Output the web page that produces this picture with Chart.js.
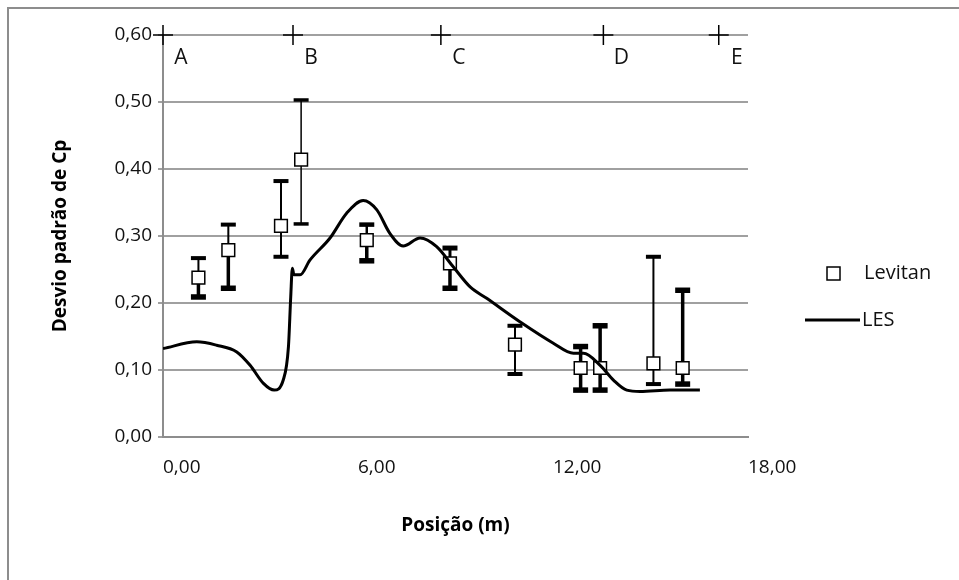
<!DOCTYPE html>
<html>
<head>
<meta charset="utf-8">
<title>Desvio padrão de Cp</title>
<script src="https://cdn.jsdelivr.net/npm/chart.js"></script>
<style>
    html, body { margin: 0; padding: 0; background: #fff; overflow: hidden; }
    #wrap { position: relative; width: 959px; height: 580px; }
    #frame { position: absolute; left: 7px; top: 7px; width: 1000px; height: 1000px;
             border: 2px solid #8d8d8d; pointer-events: none; }
</style>
</head>
<body>
<div id="wrap">
    <canvas id="chart" width="959" height="580"></canvas>
    <div id="frame"></div>
</div>
<script>
    // Levitan: position, mean value and the two ends of its error bar
    var levX    = [1.09, 2.01, 3.63, 4.25, 6.27, 8.83, 10.83, 12.85, 13.45, 15.09, 15.99];
    var levY    = [0.238, 0.279, 0.315, 0.414, 0.294, 0.259, 0.138, 0.103, 0.103, 0.110, 0.103];
    var levLow  = [0.209, 0.222, 0.269, 0.318, 0.263, 0.222, 0.094, 0.070, 0.070, 0.079, 0.079];
    var levHigh = [0.267, 0.317, 0.382, 0.503, 0.317, 0.282, 0.166, 0.135, 0.166, 0.269, 0.219];

    // LES curve
    var lesX = [0.00, 1.04, 1.65, 2.27, 2.68, 3.09, 3.42, 3.70, 3.86, 3.93, 3.98, 4.03, 4.22, 4.52,
                5.14, 5.65, 6.16, 6.58, 6.98, 7.39, 7.91, 8.42, 8.93, 9.45, 9.96, 10.98, 12.01,
                12.63, 12.94, 13.45, 13.86, 14.27, 14.68, 15.60, 16.52];
    var lesY = [0.132, 0.142, 0.137, 0.127, 0.107, 0.080, 0.070, 0.085, 0.135, 0.209, 0.252, 0.242, 0.242, 0.264,
                0.297, 0.334, 0.353, 0.339, 0.304, 0.285, 0.297, 0.284, 0.254, 0.224, 0.207, 0.172, 0.140,
                0.125, 0.125, 0.107, 0.085, 0.070, 0.068, 0.070, 0.070];

    // section markers along the top
    var secNames = ['A', 'B', 'C', 'D', 'E'];
    var secX = [0.00, 4.00, 8.55, 13.55, 17.10];
    var secY = [0.60, 0.60, 0.60, 0.60, 0.60];

    // line widths of the upper / lower half of each error bar
    var upW  = [2, 2, 2, 1.5, 2.5, 3, 2, 3.5, 3.5, 2, 3.5];
    var lowW = [3.5, 3.5, 2, 1.5, 3.5, 3.5, 2, 3.5, 3.5, 2, 3.5];

    function fmt(v) { return v.toFixed(2).replace('.', ','); }
    function pts(xs, ys) { return xs.map(function (x, i) { return {x: x, y: ys[i]}; }); }

    var errorBars = {
        id: 'errorBars',
        beforeDatasetsDraw: function (chart) {
            var sx = chart.scales.x, sy = chart.scales.y, ctx = chart.ctx;
            ctx.save();
            ctx.strokeStyle = '#000';
            levX.forEach(function (v, i) {
                var px = sx.getPixelForValue(v), pm = sy.getPixelForValue(levY[i]);
                [[levHigh[i], upW[i]], [levLow[i], lowW[i]]].forEach(function (e) {
                    var pe = sy.getPixelForValue(e[0]);
                    ctx.lineWidth = e[1];
                    ctx.beginPath(); ctx.moveTo(px, pm); ctx.lineTo(px, pe); ctx.stroke();
                    ctx.lineWidth = e[1] + 2;
                    ctx.beginPath(); ctx.moveTo(px - 7.5, pe); ctx.lineTo(px + 7.5, pe); ctx.stroke();
                });
            });
            ctx.restore();
        }
    };

    var sectionLabels = {
        id: 'sectionLabels',
        afterDatasetsDraw: function (chart) {
            var ctx = chart.ctx;
            ctx.save();
            ctx.font = '21px "Open Sans"';
            ctx.fillStyle = '#111';
            ctx.textAlign = 'center';
            ctx.textBaseline = 'middle';
            chart.getDatasetMeta(2).data.forEach(function (el, i) {
                ctx.fillText(secNames[i], el.x + 18, el.y + 23);
            });
            ctx.restore();
        }
    };

    var sideLegend = {
        id: 'sideLegend',
        afterDraw: function (chart) {
            var ctx = chart.ctx;
            ctx.save();
            ctx.strokeStyle = '#000';
            ctx.lineWidth = 1.5;
            ctx.fillStyle = '#fff';
            ctx.fillRect(827, 267, 13, 13);
            ctx.strokeRect(827, 267, 13, 13);
            ctx.lineWidth = 3;
            ctx.beginPath(); ctx.moveTo(805, 320); ctx.lineTo(860, 320); ctx.stroke();
            ctx.font = '20px "Open Sans"';
            ctx.fillStyle = '#111';
            ctx.textBaseline = 'middle';
            ctx.fillText('Levitan', 864, 273);
            ctx.fillText('LES', 862, 320);
            ctx.restore();
        }
    };

    var ctx = document.getElementById('chart').getContext('2d');
    var chart = new Chart(ctx, {
        type: 'scatter',
        data: {
            datasets: [{
                label: 'LES',
                data: pts(lesX, lesY),
                showLine: true,
                borderColor: '#000',
                borderWidth: 3,
                pointRadius: 0,
                cubicInterpolationMode: 'monotone'
            },
            {
                label: 'Levitan',
                data: pts(levX, levY),
                pointStyle: 'rect',
                pointRadius: 9,
                backgroundColor: '#fff',
                borderColor: '#000',
                borderWidth: 1.5
            },
            {
                label: 'Secções',
                data: pts(secX, secY),
                pointStyle: 'cross',
                pointRadius: 10,
                borderColor: '#000',
                borderWidth: 1.5,
                clip: false
            }]
        },
        options: {
            responsive: false,
            animation: false,
            layout: { padding: { left: 0, top: 35, right: 211, bottom: 0 } },
            plugins: { legend: { display: false }, tooltip: { enabled: false } },
            scales: {
                x: {
                    type: 'linear',
                    min: 0, max: 18,
                    afterFit: function (s) { s.height = 143; },
                    ticks: {
                        stepSize: 6,
                        padding: 19,
                        align: 'start',
                        color: '#111',
                        font: { family: 'Open Sans', size: 19 },
                        callback: function (v) { return fmt(v); }
                    },
                    grid: { display: false, drawTicks: false },
                    border: { color: '#8d8d8d', width: 2 },
                    title: {
                        display: true,
                        text: 'Posição (m)',
                        color: '#000',
                        font: { family: 'Open Sans', size: 19, weight: 'bold' },
                        padding: { top: 0, bottom: 43 }
                    }
                },
                y: {
                    min: 0, max: 0.6,
                    afterFit: function (s) { s.width = 163; },
                    ticks: {
                        stepSize: 0.1,
                        padding: 6,
                        color: '#111',
                        font: { family: 'Open Sans', size: 19 },
                        callback: function (v) { return fmt(v); }
                    },
                    grid: { color: '#a0a0a0', lineWidth: 2, tickLength: 5 },
                    border: { color: '#8d8d8d', width: 2 },
                    title: {
                        display: true,
                        text: 'Desvio padrão de Cp',
                        color: '#000',
                        font: { family: 'Open Sans', size: 19, weight: 'bold' },
                        padding: { top: 49, bottom: 0 }
                    }
                }
            }
        },
        plugins: [errorBars, sectionLabels, sideLegend]
    });
</script>
</body>
</html>
